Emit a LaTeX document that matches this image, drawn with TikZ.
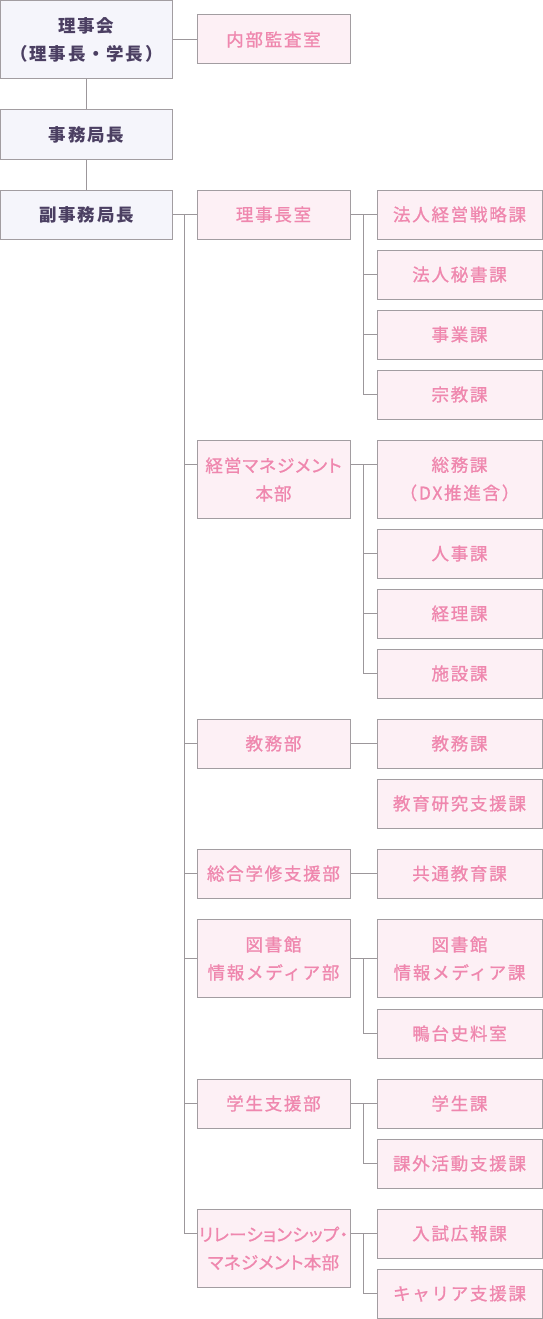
\documentclass[tikz,border=0pt]{standalone}
\usepackage{fontspec}
\newfontfamily\jp[LetterSpace=10]{Noto Sans CJK JP}
\newfontfamily\jpm[LetterSpace=10,FakeBold=1]{Noto Sans CJK JP}
\newfontfamily\jpp[LetterSpace=6,FakeBold=1,RawFeature=+palt]{Noto Sans CJK JP}
\newfontfamily\jpq[LetterSpace=2,FakeBold=1,RawFeature=+palt]{Noto Sans CJK JP}
\definecolor{bordc}{HTML}{A29DA1}
\definecolor{linec}{HTML}{9C979B}
\definecolor{lfill}{HTML}{F5F5FB}
\definecolor{pfill}{HTML}{FDF0F5}
\definecolor{ptext}{HTML}{EF87AE}
\definecolor{dtext}{HTML}{4B3F62}
\begin{document}
\begin{tikzpicture}[x=1pt,y=-1pt,
  box/.style={draw=bordc, line width=1pt, inner sep=0pt, align=center,
    font=\jpm\fontsize{17.5}{28}\selectfont},
  lb/.style={box, fill=lfill, text=dtext, minimum width=172pt, font=\jp\bfseries\fontsize{17.5}{28}\selectfont},
  mb/.style={box, fill=pfill, text=ptext, minimum width=153pt, text width=153pt},
  rb/.style={box, fill=pfill, text=ptext, minimum width=165pt, text width=165pt},
  ha/.style={minimum height=49pt},
  hb/.style={minimum height=78pt},
  conn/.style={draw=linec, line width=1pt}]
\useasboundingbox (0,0) rectangle (543,1319);
% left column
\node[lb,hb] (rijikai) at (86.5,39.5) {理事会\\（理事長・学長）};
\node[lb,ha] (jimu) at (86.5,134.5) {事務局長};
\node[lb,ha] (fuku) at (86.5,214.5) {副事務局長};
\node[mb,ha] (naibu) at (273.5,39.5) {内部監査室};
% middle column
\node[mb,ha] (richo) at (273.5,214.5) {理事長室};
\node[mb,hb,font=\jpp\fontsize{17.5}{28}\selectfont] (keiei) at (273.5,479.5) {経営マネジメント\\本部};
\node[mb,ha] (kyomub) at (273.5,743.5) {教務部};
\node[mb,ha] (sogo) at (273.5,873.5) {総合学修支援部};
\node[mb,hb] (toshob) at (273.5,958.5) {図書館\\情報メディア部};
\node[mb,ha] (gakuseib) at (273.5,1103.5) {学生支援部};
\node[mb,hb,font=\jpq\fontsize{17.5}{28}\selectfont] (rel) at (273.5,1248.5) {リレーションシップ・\\マネジメント本部};
% right column
\node[rb,ha] (hojin) at (459.5,214.5) {法人経営戦略課};
\node[rb,ha] (hisho) at (459.5,274.5) {法人秘書課};
\node[rb,ha] (jigyo) at (459.5,334.5) {事業課};
\node[rb,ha] (shukyo) at (459.5,394.5) {宗教課};
\node[rb,hb] (somu) at (459.5,479) {総務課\\（DX推進含）};
\node[rb,ha] (jinji) at (459.5,553.5) {人事課};
\node[rb,ha] (keiri) at (459.5,613.5) {経理課};
\node[rb,ha] (shisetsu) at (459.5,673.5) {施設課};
\node[rb,ha] (kyomuk) at (459.5,743.5) {教務課};
\node[rb,ha] (kyoiku) at (459.5,803.5) {教育研究支援課};
\node[rb,ha] (kyotsu) at (459.5,873.5) {共通教育課};
\node[rb,hb] (toshok) at (459.5,958.5) {図書館\\情報メディア課};
\node[rb,ha] (otani) at (459.5,1033.5) {鴨台史料室};
\node[rb,ha] (gakuseik) at (459.5,1103.5) {学生課};
\node[rb,ha] (kagai) at (459.5,1163.5) {課外活動支援課};
\node[rb,ha] (nyushi) at (459.5,1233.5) {入試広報課};
\node[rb,ha] (career) at (459.5,1293.5) {キャリア支援課};
% helper coordinates
\coordinate (tx) at (184.5,0);
\coordinate (sx) at (363.5,0);
\coordinate (kk) at ([yshift=15.5pt]keiei.west);
\coordinate (kke) at ([yshift=15.5pt]keiei.east);
\coordinate (kks) at ([yshift=15pt]somu.west);
\coordinate (rr) at ([yshift=15pt]rel.west);
% top connectors
\draw[conn] (rijikai) -- (naibu);
\draw[conn] (rijikai) -- (jimu);
\draw[conn] (jimu) -- (fuku);
% trunk
\draw[conn] (fuku.east) -- (richo.west);
\draw[conn] (tx |- fuku.east) -- (tx |- rr);
\draw[conn] (tx |- kk) -- (kk);
\foreach \n in {kyomub,sogo,toshob,gakuseib} \draw[conn] (tx |- \n.west) -- (\n.west);
\draw[conn] (tx |- rr) -- (rr);
% 理事長室 group
\draw[conn] (richo.east) -- (hojin.west);
\draw[conn] (sx |- hojin.west) -- (sx |- shukyo.west);
\foreach \n in {hisho,jigyo,shukyo} \draw[conn] (sx |- \n.west) -- (\n.west);
% 経営 group
\draw[conn] (kke) -- (kks);
\draw[conn] (sx |- kks) -- (sx |- shisetsu.west);
\foreach \n in {jinji,keiri,shisetsu} \draw[conn] (sx |- \n.west) -- (\n.west);
% 教務部 / 総合学修
\draw[conn] (kyomub.east) -- (kyomuk.west);
\draw[conn] (sogo.east) -- (kyotsu.west);
% 図書館 group
\draw[conn] (toshob.east) -- (toshok.west);
\draw[conn] (sx |- toshok.west) -- (sx |- otani.west) -- (otani.west);
% 学生支援 group
\draw[conn] (gakuseib.east) -- (gakuseik.west);
\draw[conn] (sx |- gakuseik.west) -- (sx |- kagai.west) -- (kagai.west);
% リレーション group
\draw[conn] (rel.east |- nyushi.west) -- (nyushi.west);
\draw[conn] (sx |- nyushi.west) -- (sx |- career.west) -- (career.west);
\end{tikzpicture}
\end{document}
